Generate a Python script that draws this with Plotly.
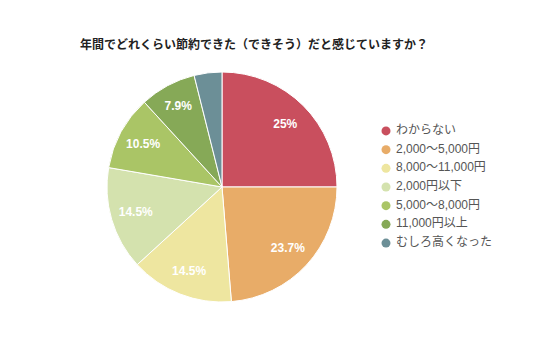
import plotly.graph_objects as go

categories = ["わからない", "2,000〜5,000円", "8,000〜11,000円", "2,000円以下",
              "5,000〜8,000円", "11,000円以上", "むしろ高くなった"]
values = [25.0, 23.7, 14.5, 14.5, 10.5, 7.9, 3.9]
labels_text = ["25%", "23.7%", "14.5%", "14.5%", "10.5%", "7.9%", ""]
colors = ["#C94F5E", "#E8AC68", "#EEE6A0", "#D4E2AE", "#AAC566", "#86A957", "#6C8F97"]

W, H = 536, 357
cx, cy, r = 222, 187, 115
pie_domain = dict(x=[(cx - r) / W, (cx + r) / W], y=[(H - cy - r) / H, (H - cy + r) / H])

fig = go.Figure()
# colored slices
fig.add_trace(go.Pie(
    labels=categories, values=values, textinfo="none",
    sort=False, direction="clockwise", rotation=0,
    marker=dict(colors=colors, line=dict(color="white", width=1)),
    showlegend=False, hoverinfo="label+percent", domain=pie_domain,
))
# transparent ring only used to place labels at ~0.78 radius
fig.add_trace(go.Pie(
    labels=categories, values=values, text=labels_text, textinfo="text",
    textposition="inside", insidetextorientation="horizontal", hole=0.56,
    sort=False, direction="clockwise", rotation=0,
    marker=dict(colors=["rgba(0,0,0,0)"] * len(values), line=dict(width=0)),
    textfont=dict(color="white", size=12, family="Liberation Sans, Arial", weight="bold"),
    showlegend=False, hoverinfo="skip", domain=pie_domain,
))
# legend drawn as a marker+text column
fig.add_trace(go.Scatter(
    x=[0] * len(categories), y=list(range(len(categories))),
    mode="markers+text", text=[" " + c for c in categories], textposition="middle right",
    marker=dict(color=colors, size=9, symbol="circle"),
    textfont=dict(size=12, color="#555", family="Liberation Sans, Noto Sans CJK JP"),
    hoverinfo="skip", showlegend=False, cliponaxis=False,
))

fig.update_layout(
    width=W, height=H, margin=dict(l=0, r=0, t=0, b=0),
    paper_bgcolor="white", plot_bgcolor="rgba(0,0,0,0)",
    xaxis=dict(visible=False, range=[0, 1], domain=[386 / W, 506 / W], fixedrange=True),
    yaxis=dict(visible=False, range=[6.5, -0.5],
               domain=[1 - (243 + 9.4) / H, 1 - (131 - 9.4) / H], fixedrange=True),
    title=dict(text="<b>年間でどれくらい節約できた（できそう）だと感じていますか？</b>",
               x=80 / W, xanchor="left", y=1 - 45 / H, yanchor="middle",
               font=dict(size=12, color="#222", family="Noto Sans CJK JP")),
    showlegend=False,
)
fig.write_html("out.html", config={"displayModeBar": False},
               post_script="document.body.style.margin='0px';")
